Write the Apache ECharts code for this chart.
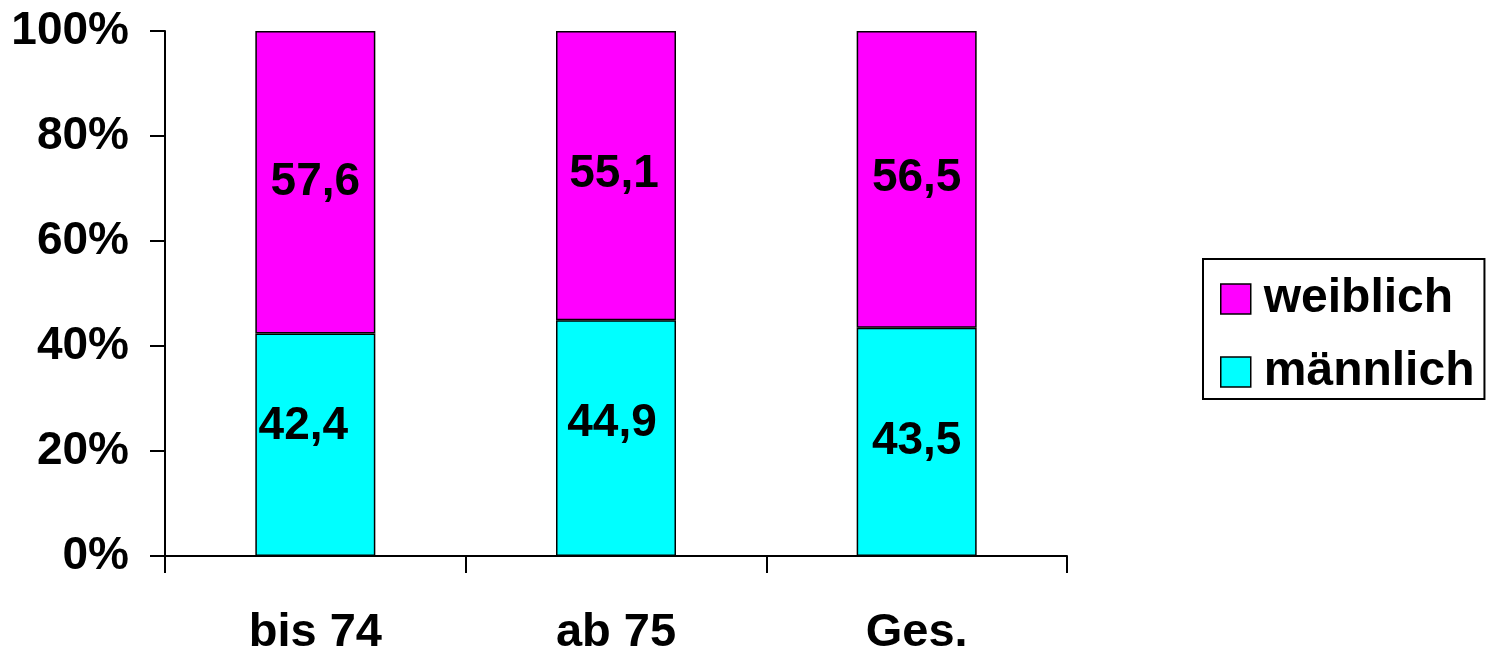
<!DOCTYPE html>
<html>
<head>
<meta charset="utf-8">
<script src="https://cdn.jsdelivr.net/npm/echarts@6/dist/echarts.min.js"></script>
<style>
html,body{margin:0;padding:0;background:#fff;}
#chart{width:1489px;height:650px;}
</style>
</head>
<body>
<div id="chart"></div>
<script>
const categories = ['bis 74', 'ab 75', 'Ges.'];
const maennlich = [42.4, 44.9, 43.5];
const weiblich = [57.6, 55.1, 56.5];
const valueLabels = { maennlich: ['42,4', '44,9', '43,5'], weiblich: ['57,6', '55,1', '56,5'] };

const FONT = '"Liberation Sans", Arial, sans-serif';
const maennlichOffsets = [[-12, -18], [-4, -15], [0, -1]];
const weiblichOffsets = [[0, 0], [-2, -1], [0, -1]];

const chart = echarts.init(document.getElementById('chart'));
function items(values, labels, offsets) {
  return values.map((v, i) => ({ value: v, label: { formatter: labels[i], offset: offsets[i] } }));
}
const labelStyle = { show: true, position: 'inside', color: '#000', fontSize: 46, fontWeight: 'bold', fontFamily: FONT };
chart.setOption({
  animation: false,
  backgroundColor: '#fff',
  grid: { left: 165, right: 422, top: 31, bottom: 94, outerBoundsMode: 'none', containLabel: false },
  legend: {
    orient: 'vertical',
    left: 1203, top: 259,
    data: ['weiblich', 'männlich'],
    icon: 'rect',
    itemWidth: 30, itemHeight: 30, itemGap: 25,
    padding: [16, 10, 3, 17],
    borderColor: '#000', borderWidth: 2,
    textStyle: { fontSize: 48, fontWeight: 'bold', fontFamily: FONT, color: '#000', lineHeight: 46, padding: [0, 0, 0, 8] },
    itemStyle: { borderColor: '#000', borderWidth: 1.5 }
  },
  xAxis: {
    type: 'category', data: categories,
    axisLine: { lineStyle: { color: '#000', width: 2 } },
    axisTick: { show: true, length: 17, lineStyle: { color: '#000', width: 2 } },
    axisLabel: { color: '#000', fontSize: 47, fontWeight: 'bold', fontFamily: FONT, margin: 54 }
  },
  yAxis: {
    type: 'value', min: 0, max: 100, interval: 20,
    axisLine: { show: true, lineStyle: { color: '#000', width: 2 } },
    axisTick: { show: true, length: 15, lineStyle: { color: '#000', width: 2 } },
    splitLine: { show: false },
    axisLabel: { color: '#000', fontSize: 46, fontWeight: 'bold', fontFamily: FONT, margin: 36, formatter: '{value}%' }
  },
  series: [
    { name: 'männlich', type: 'bar', stack: 'a', barWidth: 120, data: items(maennlich, valueLabels.maennlich, maennlichOffsets),
      itemStyle: { color: '#00FFFF', borderColor: '#000', borderWidth: 1.5 }, label: labelStyle },
    { name: 'weiblich', type: 'bar', stack: 'a', barWidth: 120, data: items(weiblich, valueLabels.weiblich, weiblichOffsets),
      itemStyle: { color: '#FF00FF', borderColor: '#000', borderWidth: 1.5 }, label: labelStyle }
  ]
});
</script>
</body>
</html>
